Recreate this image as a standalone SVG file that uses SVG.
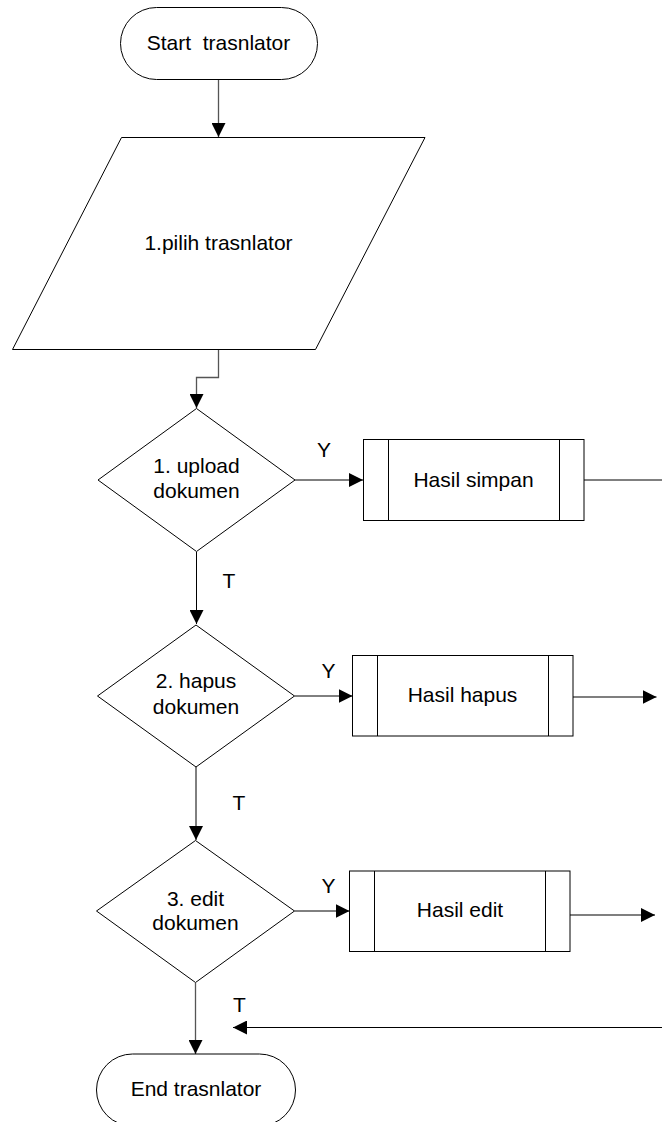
<svg xmlns="http://www.w3.org/2000/svg" width="662" height="1122" viewBox="0 0 662 1122">
<defs>
<marker id="arr" markerUnits="userSpaceOnUse" markerWidth="14" markerHeight="14" refX="14" refY="7" orient="auto">
<path d="M0,0 L14,7 L0,14 z" fill="#000"/>
</marker>
<style>
.s{fill:#fff;stroke:#000;stroke-width:1}
.t{font-family:"Liberation Sans",Arial,sans-serif;font-size:21px;fill:#000;text-anchor:middle;white-space:pre}
.l{font-family:"Liberation Sans",Arial,sans-serif;font-size:21px;fill:#000;text-anchor:middle}
.c{fill:none;stroke:#000;stroke-width:1}
.g{fill:none;stroke:#555;stroke-width:1.3}
</style>
</defs>
<rect width="662" height="1122" fill="#fff"/>
<g id="connectors">
<path class="g" d="M218.5,79.5 V137" marker-end="url(#arr)"/>
<path class="g" d="M218.5,349.5 V377.5 H196.5 V408" marker-end="url(#arr)"/>
<path class="c" d="M295,480 H363" marker-end="url(#arr)"/>
<path class="c" d="M584,480 H662"/>
<path class="c" d="M196.5,552 V624" marker-end="url(#arr)"/>
<path class="c" d="M294.5,696 H352.5" marker-end="url(#arr)"/>
<path class="g" d="M573,697 H656.5" marker-end="url(#arr)"/>
<path class="c" d="M196,767 V840" marker-end="url(#arr)"/>
<path class="c" d="M294.5,911 H349.5" marker-end="url(#arr)"/>
<path class="g" d="M570,915 H655" marker-end="url(#arr)"/>
<path class="c" d="M662,1027.5 H233" marker-end="url(#arr)"/>
<path class="g" d="M195.5,983 V1054" marker-end="url(#arr)"/>
<text class="l" x="324" y="457">Y</text>
<text class="l" x="229" y="588">T</text>
<text class="l" x="328.5" y="678">Y</text>
<text class="l" x="239" y="810">T</text>
<text class="l" x="328.5" y="893">Y</text>
<text class="l" x="239.5" y="1012">T</text>
</g>
<g id="start">
<rect class="s" x="120.5" y="7.5" width="197" height="72" rx="36" ry="36"/>
<text class="t" x="218.5" y="50">Start  trasnlator</text>
</g>
<g id="pilih">
<polygon class="s" points="121.5,137.5 425,137.5 315.5,349.5 12.5,349.5"/>
<text class="t" x="218.5" y="250">1.pilih trasnlator</text>
</g>
<g id="upload">
<polygon class="s" points="196.5,408.5 295,480 196.5,551.5 98,480"/>
<text class="t" x="196.5" y="473">1. upload</text>
<text class="t" x="196.5" y="498">dokumen</text>
</g>
<g id="simpan">
<rect class="s" x="363.5" y="439.5" width="220.5" height="81"/>
<line class="c" x1="388.5" y1="439.5" x2="388.5" y2="520.5"/>
<line class="c" x1="559.5" y1="439.5" x2="559.5" y2="520.5"/>
<text class="t" x="473.5" y="487">Hasil simpan</text>
</g>
<g id="hapus">
<polygon class="s" points="196,625 294.5,696 196,767 97.5,696"/>
<text class="t" x="196" y="688">2. hapus</text>
<text class="t" x="196" y="714">dokumen</text>
</g>
<g id="hasilhapus">
<rect class="s" x="352.5" y="655.5" width="220.5" height="80.5"/>
<line class="c" x1="377.5" y1="655.5" x2="377.5" y2="736"/>
<line class="c" x1="548.5" y1="655.5" x2="548.5" y2="736"/>
<text class="t" x="462.5" y="702">Hasil hapus</text>
</g>
<g id="edit">
<polygon class="s" points="195.5,840.5 294.5,911 195.5,982.5 96.5,911"/>
<text class="t" x="195.5" y="906">3. edit</text>
<text class="t" x="195.5" y="930">dokumen</text>
</g>
<g id="hasiledit">
<rect class="s" x="349.5" y="871" width="220.5" height="80.5"/>
<line class="c" x1="374.5" y1="871" x2="374.5" y2="951.5"/>
<line class="c" x1="545.5" y1="871" x2="545.5" y2="951.5"/>
<text class="t" x="460" y="917">Hasil edit</text>
</g>
<g id="end">
<rect class="s" x="96.5" y="1054" width="199" height="72" rx="36" ry="36"/>
<text class="t" x="196" y="1096">End trasnlator</text>
</g>
</svg>
